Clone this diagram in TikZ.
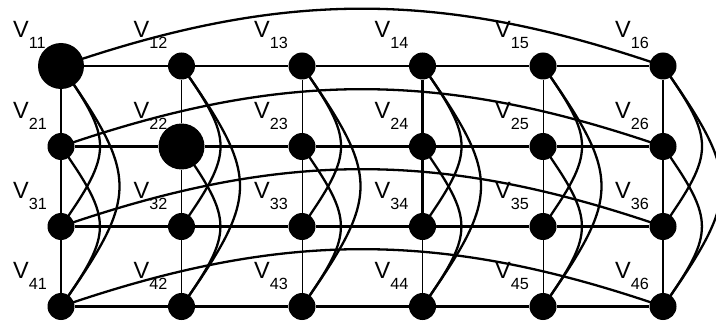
\documentclass[tikz,border=0pt]{standalone}
\usepackage{fontspec}
\setmainfont{Liberation Sans}
\usetikzlibrary{backgrounds}
\begin{document}
\begin{tikzpicture}[x=1pt,y=1pt,
  vtx/.style={circle,fill=black,inner sep=0pt,minimum size=27pt},
  bigvtx/.style={circle,fill=black,inner sep=0pt,minimum size=46pt},
  thk/.style={line width=2.3pt},
  thn/.style={line width=1pt},
  colarc/.style={line width=2.3pt,out=-55,in=55,looseness=1.45},
  rowarc/.style={line width=2.3pt,bend left=19},
  lbl/.style={anchor=base west,inner sep=0pt,font=\fontsize{23.5}{23}\selectfont}]
\useasboundingbox (0,0) rectangle (716,322);
% vertices
\foreach \c/\x in {1/61,2/181.5,3/302,4/422.5,5/543,6/663}{
  \foreach \r/\y in {1/256,2/175.5,3/95.5,4/15.5}{
    \node[vtx] (v\r\c) at (\x,\y) {};
    \node[lbl] (l\r\c) at (\x-48,\y+28) {V\raisebox{-11pt}{\fontsize{16.2}{16}\selectfont\r\c}};
  }
}
\node[bigvtx] (v11) at (v11.center) {};
\node[bigvtx] (v22) at (v22.center) {};
\begin{pgfonlayer}{background}
% horizontal edges
\foreach \r in {1,2,3,4}{
  \foreach \a/\b in {1/2,2/3,3/4,4/5,5/6}{
    \draw[thk] (v\r\a) -- (v\r\b);
  }
  \draw[rowarc] (v\r1.center) to (v\r6.center);
}
% vertical edges
\foreach \c/\s in {1/thk,2/thn,3/thn,5/thn,6/thk}{
  \foreach \a/\b in {1/2,2/3,3/4}{
    \draw[\s] (v\a\c) -- (v\b\c);
  }
}
\draw[thk] (v14) -- (v24);
\draw[thk] (v24) -- (v34);
\draw[thn] (v34) -- (v44);
% column arcs
\foreach \c in {1,2,3,4,5,6}{
  \draw[colarc] (v1\c.center) to (v3\c.center);
  \draw[colarc] (v2\c.center) to (v4\c.center);
  \draw[colarc] (v1\c.center) to (v4\c.center);
}
\end{pgfonlayer}
\end{tikzpicture}
\end{document}
